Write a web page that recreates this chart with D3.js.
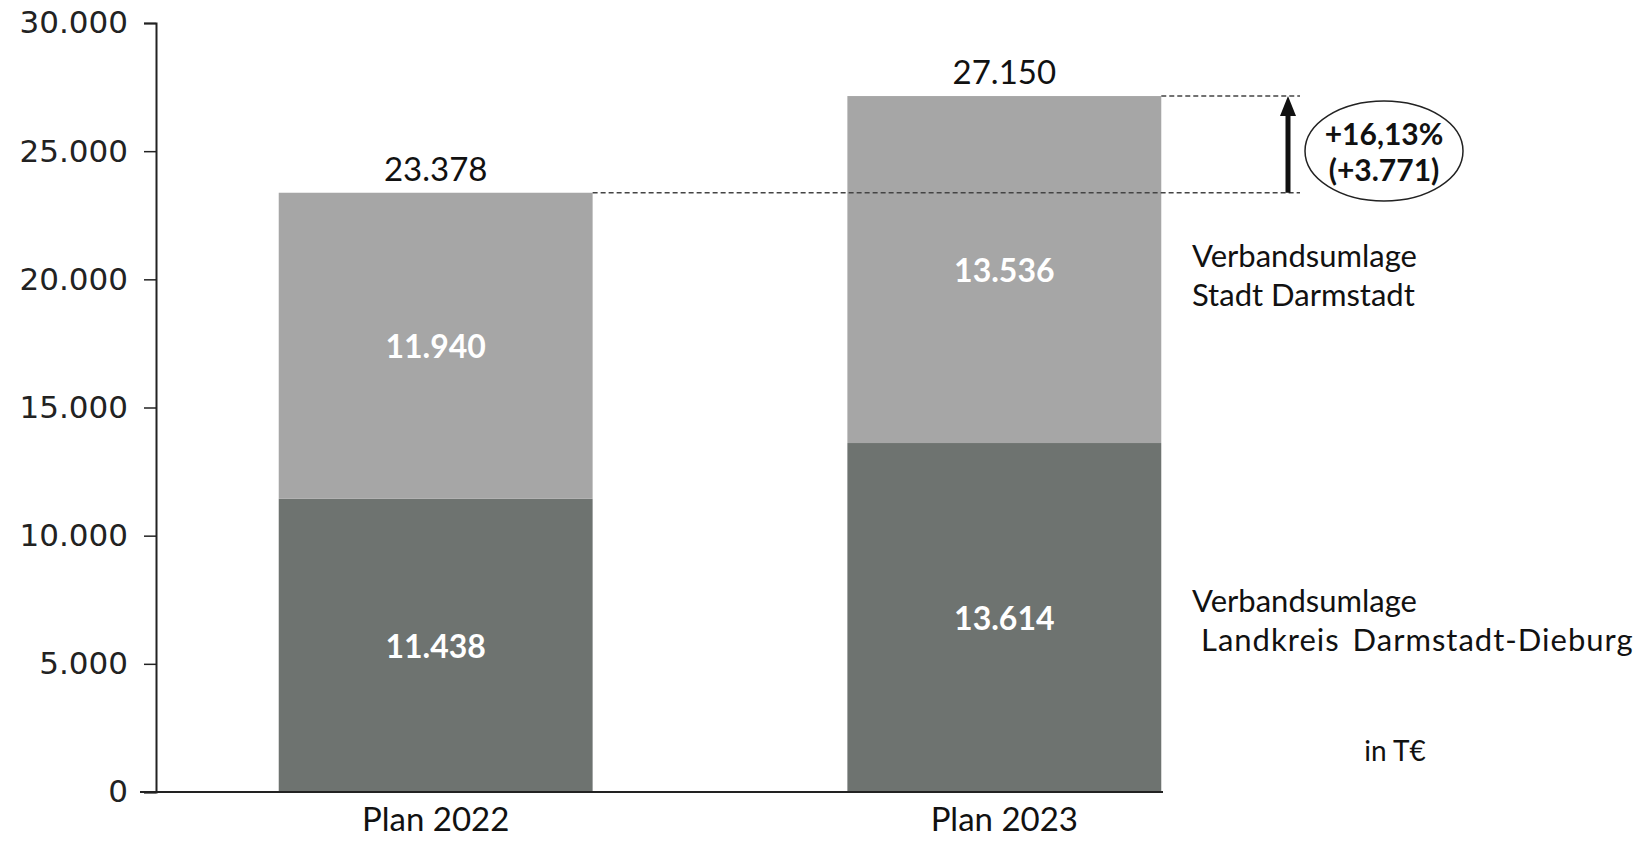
<!DOCTYPE html>
<html><head><meta charset="utf-8">
<script src="https://cdn.jsdelivr.net/npm/d3@7"></script>
<style>body{margin:0;background:#fff}svg{display:block}</style>
</head><body>
<svg id="chart" width="1651" height="841"></svg>
<script>
const categories = ["Plan 2022", "Plan 2023"];
const landkreis = [11438, 13614];
const stadt = [11940, 13536];
const totals = [23378, 27150];
const yTicks = [0, 5000, 10000, 15000, 20000, 25000, 30000];
const seriesNames = [["Verbandsumlage", "Landkreis Darmstadt-Dieburg"], ["Verbandsumlage", "Stadt Darmstadt"]];
const changeLabel = ["+16,13%", "(+3.771)"];
const unitLabel = "in T€";

const svg = d3.select("#chart");
const fmt = v => d3.format(",")(v).replace(/,/g, ".");
const x = d3.scaleBand().domain(categories).range([165, 1275]).paddingInner(0.448).paddingOuter(0.2);
const y = d3.scaleLinear().domain([0, 30000]).range([792, 23]);

const colors = {landkreis: "#6e7370", stadt: "#a6a6a6"};
const textFont = "Lato, 'Open Sans', sans-serif";

// bars
const g = svg.append("g");
categories.forEach((c, i) => {
  g.append("rect").attr("x", x(c)).attr("width", x.bandwidth())
    .attr("y", y(landkreis[i])).attr("height", y(0) - y(landkreis[i])).attr("fill", colors.landkreis);
  g.append("rect").attr("x", x(c)).attr("width", x.bandwidth())
    .attr("y", y(landkreis[i] + stadt[i])).attr("height", y(landkreis[i]) - y(landkreis[i] + stadt[i])).attr("fill", colors.stadt);
  g.append("text").attr("x", x(c) + x.bandwidth() / 2).attr("y", (y(0) + y(landkreis[i])) / 2)
    .attr("text-anchor", "middle").attr("dominant-baseline", "central")
    .attr("font-family", textFont).attr("font-weight", "bold").attr("font-size", 32).attr("fill", "#fff")
    .text(fmt(landkreis[i]));
  g.append("text").attr("x", x(c) + x.bandwidth() / 2).attr("y", (y(landkreis[i]) + y(landkreis[i] + stadt[i])) / 2)
    .attr("text-anchor", "middle").attr("dominant-baseline", "central")
    .attr("font-family", textFont).attr("font-weight", "bold").attr("font-size", 32).attr("fill", "#fff")
    .text(fmt(stadt[i]));
  g.append("text").attr("x", x(c) + x.bandwidth() / 2).attr("y", y(totals[i]) - 25)
    .attr("text-anchor", "middle").attr("dominant-baseline", "central")
    .attr("font-family", textFont).attr("font-size", 33).attr("fill", "#111")
    .text(fmt(totals[i]));
});

// y axis
const yAxis = d3.axisLeft(y).tickValues(yTicks).tickFormat(fmt).tickSize(12).tickPadding(16);
const ya = svg.append("g").attr("transform", "translate(156,0)").call(yAxis);
ya.select(".domain").attr("stroke", "#222").attr("stroke-width", 2);
ya.selectAll(".tick line").attr("stroke", "#222").attr("stroke-width", 1.5);
ya.selectAll(".tick text").attr("font-family", "'DejaVu Sans', Verdana, sans-serif").attr("font-size", 31).attr("fill", "#222");

// x axis
const xAxis = d3.axisBottom(x).tickSize(0).tickPadding(16);
const xa = svg.append("g").attr("transform", "translate(0,792)").call(xAxis);
xa.select(".domain").attr("d", "M140,0H1163").attr("stroke", "#222").attr("stroke-width", 2);
xa.selectAll(".tick text").attr("font-family", textFont).attr("font-size", 33).attr("fill", "#111");

// dashed reference lines
const arrowX = 1288;
[0, 1].forEach(i => {
  svg.append("line").attr("x1", x(categories[i]) + x.bandwidth()).attr("x2", arrowX + 12)
    .attr("y1", y(totals[i])).attr("y2", y(totals[i]))
    .attr("stroke", "#444").attr("stroke-width", 1.6).attr("stroke-dasharray", "5,3");
});

// arrow
svg.append("line").attr("x1", arrowX).attr("x2", arrowX)
  .attr("y1", y(totals[0])).attr("y2", y(totals[1]) + 14)
  .attr("stroke", "#111").attr("stroke-width", 5);
svg.append("path")
  .attr("d", `M${arrowX - 8},${y(totals[1]) + 20}L${arrowX},${y(totals[1])}L${arrowX + 8},${y(totals[1]) + 20}Z`)
  .attr("fill", "#111");

// ellipse + change label
const ex = 1384, ey = 151;
svg.append("ellipse").attr("cx", ex).attr("cy", ey).attr("rx", 79).attr("ry", 50)
  .attr("fill", "none").attr("stroke", "#222").attr("stroke-width", 1.5);
changeLabel.forEach((t, i) => {
  svg.append("text").attr("x", ex).attr("y", ey - 18 + i * 36)
    .attr("text-anchor", "middle").attr("dominant-baseline", "central")
    .attr("font-family", textFont).attr("font-weight", "bold").attr("font-size", 30).attr("fill", "#111")
    .text(t);
});

// series labels
const legendPos = [[1192, 600], [1192, 255]];
const legendIndent = [[0, 9], [0, 0]];
const legendSpacing = [[[0, 0], [1, 4]], [[0, 0], [0, 0]]];
seriesNames.forEach((lines, s) => {
  lines.forEach((t, j) => {
    svg.append("text").attr("x", legendPos[s][0] + legendIndent[s][j]).attr("y", legendPos[s][1] + j * 39)
      .attr("dominant-baseline", "central")
      .attr("font-family", textFont).attr("font-size", 31)
      .attr("letter-spacing", legendSpacing[s][j][0]).attr("word-spacing", legendSpacing[s][j][1])
      .attr("fill", "#111")
      .text(t);
  });
});
svg.append("text").attr("x", 1395).attr("y", 750).attr("text-anchor", "middle").attr("dominant-baseline", "central")
  .attr("font-family", textFont).attr("font-size", 28).attr("fill", "#111").text(unitLabel);
</script>
</body></html>
